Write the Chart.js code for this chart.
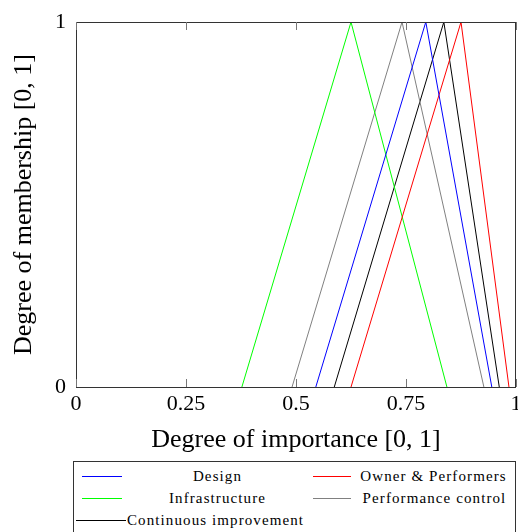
<!DOCTYPE html>
<html>
<head>
<meta charset="utf-8">
<script src="https://cdn.jsdelivr.net/npm/chart.js@4"></script>
<style>
  html, body { margin: 0; padding: 0; background: #fff; }
  body { width: 518px; height: 532px; position: relative; overflow: hidden; font-family: "Liberation Serif", "DejaVu Serif", serif; }
  #wrap { position: absolute; left: 0; top: 0; width: 518px; height: 460px; }
  #legend { position: absolute; left: 73px; top: 461px; width: 443px; height: 90px; border: 1px solid #333; box-sizing: border-box; }
  .item { position: absolute; font-size: 15px; letter-spacing: 1.1px; line-height: 22px; color: #000; white-space: nowrap; }
  .swatch { position: absolute; height: 1px; }
</style>
</head>
<body>
<div id="wrap"><canvas id="c" width="518" height="460"></canvas></div>
<div id="legend"></div>
<script>
// triangular fuzzy numbers (x of left foot, peak, right foot)
const membership = [0, 1, 0];
const seriesNames = ["Design", "Owner & Performers", "Infrastructure", "Performance control", "Continuous improvement"];
const design = [0.545, 0.795, 0.945];
const owner = [0.625, 0.875, 0.984];
const infrastructure = [0.377, 0.625, 0.843];
const performance = [0.491, 0.741, 0.927];
const continuous = [0.587, 0.836, 0.962];
const xTicks = [0, 0.25, 0.5, 0.75, 1];
const xTickLabels = ["0", "0.25", "0.5", "0.75", "1"];
const yTicks = [0, 1];

const colors = ["#0000ff", "#ff0000", "#00ff00", "#808080", "#000000"];
const allSeries = [design, owner, infrastructure, performance, continuous];

const serif = "'Liberation Serif', 'DejaVu Serif', serif";

// box frame + inward ticks
const frame = {
  id: "frame",
  afterDraw(chart) {
    const { ctx, chartArea: a, scales } = chart;
    ctx.save();
    ctx.strokeStyle = "#333";
    ctx.lineWidth = 1;
    ctx.strokeRect(a.left + 0.5, a.top + 0.5, a.right - a.left - 1, a.bottom - a.top);
    ctx.strokeStyle = "#777";
    xTicks.forEach((v) => {
      const px = Math.round(scales.x.getPixelForValue(v)) + 0.5;
      ctx.beginPath();
      ctx.moveTo(px, a.bottom); ctx.lineTo(px, a.bottom - 8);
      ctx.moveTo(px, a.top); ctx.lineTo(px, a.top + 8);
      ctx.stroke();
    });
    ctx.restore();
  }
};

new Chart(document.getElementById("c"), {
  type: "line",
  data: {
    datasets: allSeries.map((s, i) => ({
      label: seriesNames[i],
      data: s.map((x, k) => ({ x: x, y: membership[k] })),
      borderColor: colors[i],
      borderWidth: 1,
      pointRadius: 0,
      fill: false,
      tension: 0
    }))
  },
  options: {
    responsive: false,
    animation: false,
    layout: { padding: { top: 22, right: 2, left: 0, bottom: 0 } },
    plugins: { legend: { display: false }, tooltip: { enabled: false } },
    scales: {
      x: {
        type: "linear", min: 0, max: 1,
        afterBuildTicks: (s) => { s.ticks = xTicks.map((v) => ({ value: v })); },
        afterFit: (s) => { s.height = 73; s.paddingLeft = 0; s.paddingRight = 0; },
        grid: { display: false, drawTicks: false },
        border: { display: false },
        ticks: {
          padding: 4, color: "#000", maxRotation: 0, autoSkip: false,
          font: { family: serif, size: 22 },
          callback: (v) => xTickLabels[xTicks.indexOf(v)]
        },
        title: {
          display: true, text: "Degree of importance [0, 1]", color: "#000",
          font: { family: serif, size: 26 }, padding: { top: 0, bottom: 4 }
        }
      },
      y: {
        type: "linear", min: 0, max: 1,
        afterBuildTicks: (s) => { s.ticks = yTicks.map((v) => ({ value: v })); },
        afterFit: (s) => { s.width = 76; s.paddingTop = 0; s.paddingBottom = 0; },
        grid: { display: false, drawTicks: false },
        border: { display: false },
        ticks: { padding: 10, color: "#000", font: { family: serif, size: 22 } },
        title: {
          display: true, text: "Degree of membership [0, 1]", color: "#000",
          font: { family: serif, size: 26 }, padding: { top: 9, bottom: 0 }
        }
      }
    }
  },
  plugins: [frame]
});

// legend laid out like the pgfplots legend table
const legendSlots = [
  { line: [8, 48], text: [50, 237], center: true, row: 0 },
  { line: [239, 277], text: [281, 438], center: true, row: 0 },
  { line: [8, 48], text: [50, 237], center: true, row: 1 },
  { line: [239, 277], text: [283, 438], center: true, row: 1 },
  { line: [2, 52], text: [53, 300], center: false, row: 2 }
];
const legend = document.getElementById("legend");
seriesNames.forEach((name, i) => {
  const slot = legendSlots[i];
  const top = 3 + slot.row * 22;
  const sw = document.createElement("div");
  sw.className = "swatch";
  sw.style.left = slot.line[0] + "px";
  sw.style.width = (slot.line[1] - slot.line[0]) + "px";
  sw.style.top = (top + 11) + "px";
  sw.style.background = colors[i];
  legend.appendChild(sw);
  const t = document.createElement("div");
  t.className = "item";
  t.textContent = name;
  t.style.left = slot.text[0] + "px";
  t.style.top = top + "px";
  if (slot.center) { t.style.width = (slot.text[1] - slot.text[0]) + "px"; t.style.textAlign = "center"; }
  legend.appendChild(t);
});
</script>
</body>
</html>
